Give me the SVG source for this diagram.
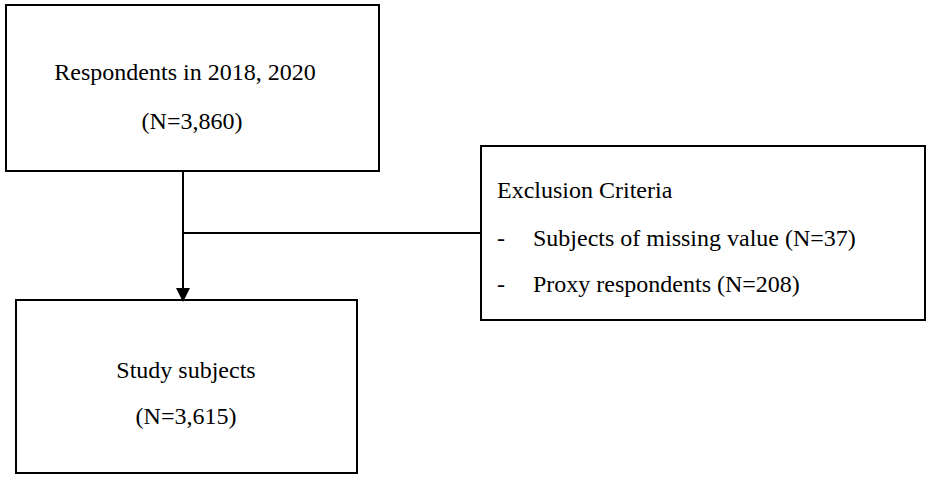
<svg xmlns="http://www.w3.org/2000/svg" width="931" height="480" viewBox="0 0 931 480">
<style>
.b{fill:#fff;stroke:#000;stroke-width:2}
text{font-family:"Liberation Serif",serif;font-size:24px;fill:#000}
.c{text-anchor:middle}
</style>
<defs><marker id="a" markerWidth="14" markerHeight="14" refX="12" refY="7" orient="auto" markerUnits="userSpaceOnUse"><path d="M0,0 L14,7 L0,14 z" fill="#000"/></marker></defs>
<rect width="931" height="480" fill="#fff"/>
<g id="n1"><rect class="b" x="6" y="5" width="373" height="166"/>
<text class="c" x="185" y="80">Respondents in 2018, 2020</text>
<text class="c" x="192" y="129">(N=3,860)</text></g>
<g id="n2"><rect class="b" x="481" y="146" width="444" height="174"/>
<text x="497" y="198">Exclusion Criteria</text>
<text x="497" y="246">-</text><text x="533" y="246">Subjects of missing value (N=37)</text>
<text x="497" y="292">-</text><text x="533" y="292">Proxy respondents (N=208)</text></g>
<g id="n3"><rect class="b" x="16" y="300" width="341" height="173"/>
<text class="c" x="186" y="378">Study subjects</text>
<text class="c" x="186" y="424">(N=3,615)</text></g>
<g id="edges" stroke="#000" stroke-width="2" fill="none">
<line x1="183" y1="171" x2="183" y2="300" marker-end="url(#a)"/>
<line x1="183" y1="233" x2="481" y2="233"/>
</g>
</svg>
